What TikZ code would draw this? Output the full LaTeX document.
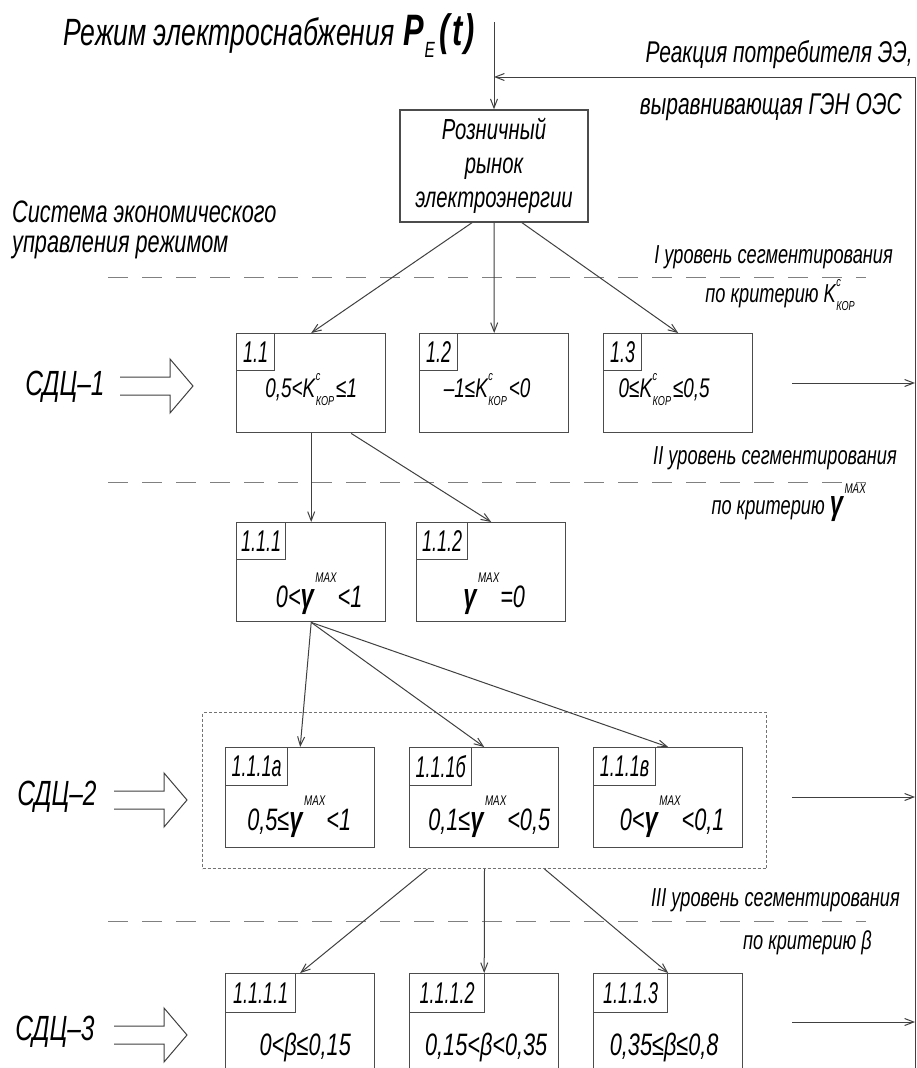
\documentclass[tikz,border=0pt]{standalone}
\usepackage{fontspec}
\setmainfont{Liberation Sans}[FakeStretch=0.7]
\newfontfamily\narrowfont{Liberation Sans}[FakeStretch=0.6]
\usetikzlibrary{arrows.meta,calc}
\newcommand{\gfont}[1]{\itshape\fontsize{#1}{#1}\selectfont}
\newcommand{\fsz}[1]{\fontsize{#1}{#1}\selectfont}
\newcommand{\supsub}[2]{\rlap{\raisebox{0.62em}{\fsz{13}#1}}\raisebox{-0.3em}{\fsz{13}#2}}
\newcommand{\Kk}{K\kern0.5pt\supsub{c}{КОР}\kern2pt}
\newcommand{\gm}{{\bfseries\fsz{34}γ}\kern1.5pt\raisebox{0.8em}{\fsz{14}MAX}\kern1pt}
\newcommand{\fatarrow}[1]{\draw[ln] (#1) ++(0,-9) -- ++(50,0) -- ++(0,-18) -- ++(23,27) -- ++(-23,27) -- ++(0,-18) -- ++(-50,0);}
\tikzset{
 ln/.style={draw=black!75, line width=1pt},
 arr/.style={ln, -{Straight Barb[length=9pt,width=7pt,line width=1pt]}},
 box/.style={draw=black!70, line width=1.4pt, minimum width=149pt, minimum height=99pt, anchor=north west, inner sep=0pt},
 lbl/.style={draw=black!70, line width=1.2pt, anchor=north west, inner sep=0pt, minimum height=37pt, font=\narrowfont\itshape\fsz{30}},
 val/.style={anchor=base, inner sep=0pt, font=\gfont{27}},
 valb/.style={anchor=base, inner sep=0pt, font=\gfont{31}},
 lvl/.style={anchor=east, inner sep=0pt, font=\gfont{26}},
 sep/.style={draw=black!50, line width=1pt, dash pattern=on 20pt off 14pt},
 grpbox/.style={draw=black!55, line width=1pt, dash pattern=on 3pt off 2pt, anchor=north west, inner sep=0pt},
 sdc/.style={anchor=center, inner sep=0pt, font=\gfont{35}},
}
\begin{document}
\begin{tikzpicture}[x=1pt,y=-1pt]
\useasboundingbox (0,0) rectangle (917,1068);
\fill[white] (0,0) rectangle (917,1068);
% title and feedback
\node[anchor=base west, inner sep=0pt, font=\gfont{38}] (title) at (63,45) {Режим электроснабжения \kern2pt{\bfseries\fsz{44}P}\raisebox{-13pt}{\fsz{22}E}\kern5pt{\bfseries\fsz{44}(\kern2pt t\kern2pt)}};
\node[anchor=east, inner sep=0pt, font=\gfont{30}] (react1) at (913,55) {Реакция потребителя ЭЭ,};
\node[anchor=east, inner sep=0pt, font=\gfont{30}] (react2) at (902,107) {выравнивающая ГЭН ОЭС};
\node[box, minimum width=188pt, minimum height=112pt, anchor=center, align=center, font=\itshape\fontsize{29}{34}\selectfont] (rn) at (494,166) {Розничный\\рынок\\электроэнергии};
\coordinate (topin) at (494,22);
\coordinate (fbL) at (494,77);
\coordinate (fbR) at (915,77);
\coordinate (fbB) at (915,1080);
\draw[arr] (topin) -- (rn.north);
\draw[ln] (fbB) -- (fbR);
\draw[arr] (fbR) -- (fbL);
\node[anchor=west, align=left, inner sep=0pt, font=\itshape\fontsize{31}{30}\selectfont] (sys) at (12,230) {Система экономического\\управления режимом};
% level I
\node[lvl] (lv1a) at (893,257) {I уровень сегментирования};
\node[lvl] (lv1b) at (857,295) {по критерию \Kk};
\draw[sep] (108,277) -- (866,277);
% row 1
\node[box] (b11) at (236,333) {};
\node[box] (b12) at (419,333) {};
\node[box] (b13) at (603,333) {};
\node[lbl, minimum width=38pt] (l11) at (b11.north west) {1.1};
\node[lbl, minimum width=38pt] (l12) at (b12.north west) {1.2};
\node[lbl, minimum width=38pt] (l13) at (b13.north west) {1.3};
\node[val] (v11) at ($(b11.north)+(0,64)$) {0,5<\Kk≤1};
\node[val] (v12) at ($(b12.north)+(-7,64)$) {–1≤\Kk<0};
\node[val] (v13) at ($(b13.north)+(-14,64)$) {0≤\Kk≤0,5};
\draw[arr] ($(rn.south)+(-22,0)$) -- (b11.north);
\draw[arr] (rn.south) -- (b12.north);
\draw[arr] ($(rn.south)+(28,0)$) -- (b13.north);
\node[sdc] (sdc1) at (65,387) {СДЦ–1};
\coordinate (fa1) at (120,386);
\fatarrow{fa1}
\coordinate (r1) at (792,383);
\draw[arr] (r1) -- (r1 -| fbR);
% level II
\node[lvl] (lv2a) at (897,458) {II уровень сегментирования};
\node[lvl] (lv2b) at (867,503) {по критерию \gm};
\draw[sep] (108,482) -- (866,482);
% row 2
\node[box] (b111) at (236,522) {};
\node[box] (b112) at (416,522) {};
\node[lbl, minimum width=49pt] (l111) at (b111.north west) {1.1.1};
\node[lbl, minimum width=51pt] (l112) at (b112.north west) {1.1.2};
\node[valb] (v111) at ($(b111.north)+(8,85)$) {0<\gm<1};
\node[valb] (v112) at ($(b112.north)+(3,85)$) {\gm=0};
\draw[arr] (b11.south) -- (b111.north);
\draw[arr] ($(b11.south)+(40,0)$) -- (b112.north);
% row 3
\node[grpbox, minimum width=564pt, minimum height=156pt] (grp) at (202,712) {};
\node[box, minimum height=100pt] (b11a) at (225,747) {};
\node[box, minimum height=100pt] (b11b) at (409,747) {};
\node[box, minimum height=100pt] (b11c) at (593,747) {};
\node[lbl, minimum width=62pt, minimum height=38pt] (l11a) at (b11a.north west) {1.1.1а};
\node[lbl, minimum width=62pt, minimum height=38pt] (l11b) at (b11b.north west) {1.1.1б};
\node[lbl, minimum width=62pt, minimum height=38pt] (l11c) at (b11c.north west) {1.1.1в};
\node[valb] (v11a) at ($(b11a.north)+(-1,83)$) {0,5≤\gm<1};
\node[valb] (v11b) at ($(b11b.north)+(5,83)$) {0,1≤\gm<0,5};
\node[valb] (v11c) at ($(b11c.north)+(4,83)$) {0<\gm<0,1};
\draw[arr] (b111.south) -- (b11a.north);
\draw[arr] (b111.south) -- (b11b.north);
\draw[arr] (b111.south) -- (b11c.north);
\node[sdc] (sdc2) at (57,797) {СДЦ–2};
\coordinate (fa2) at (114,800);
\fatarrow{fa2}
\coordinate (r2) at (792,797);
\draw[arr] (r2) -- (r2 -| fbR);
% level III
\node[lvl] (lv3a) at (900,900) {III уровень сегментирования};
\node[lvl] (lv3b) at (872,943) {по критерию β};
\draw[sep] (108,921) -- (866,921);
% row 4
\node[box, minimum height=120pt] (b1111) at (225,973) {};
\node[box, minimum height=120pt] (b1112) at (409,973) {};
\node[box, minimum height=120pt] (b1113) at (593,973) {};
\node[lbl, minimum width=70pt, minimum height=39pt] (l1111) at (b1111.north west) {1.1.1.1};
\node[lbl, minimum width=75pt, minimum height=39pt] (l1112) at (b1112.north west) {1.1.1.2};
\node[lbl, minimum width=74pt, minimum height=39pt] (l1113) at (b1113.north west) {1.1.1.3};
\node[valb] (v1111) at ($(b1111.north)+(5,82)$) {0<β≤0,15};
\node[valb] (v1112) at ($(b1112.north)+(2,82)$) {0,15<β<0,35};
\node[valb] (v1113) at ($(b1113.north)+(-4,82)$) {0,35≤β≤0,8};
\draw[arr] ($(grp.south)+(-57,0)$) -- (b1111.north);
\draw[arr] (grp.south) -- (b1112.north);
\draw[arr] ($(grp.south)+(60,0)$) -- (b1113.north);
\node[sdc] (sdc3) at (55,1032) {СДЦ–3};
\coordinate (fa3) at (114,1035);
\fatarrow{fa3}
\coordinate (r3) at (792,1022);
\draw[arr] (r3) -- (r3 -| fbR);
\end{tikzpicture}
\end{document}
